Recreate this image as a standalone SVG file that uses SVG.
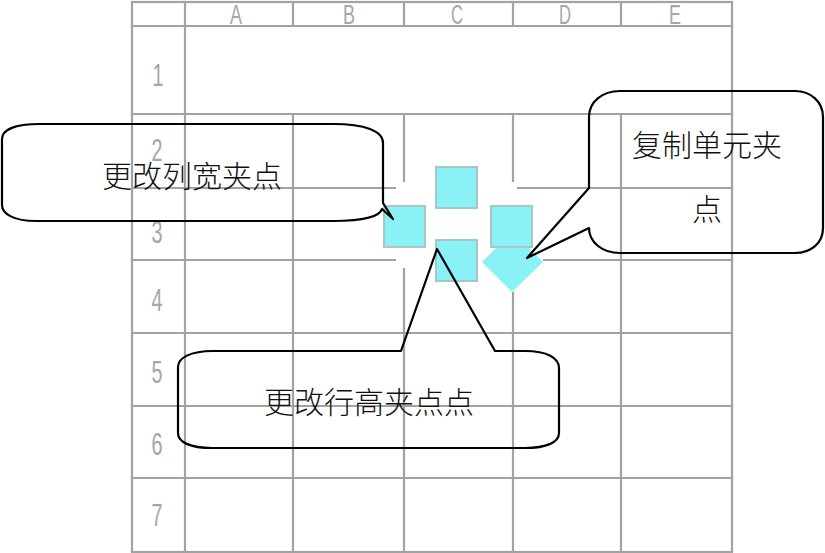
<svg xmlns="http://www.w3.org/2000/svg" width="825" height="553" viewBox="0 0 825 553">
<style>
.g{stroke:#a2a2a2;stroke-width:2.2;fill:none}
.hd{font-family:"Liberation Sans",Arial,sans-serif;font-size:31px;fill:#a6a6a6;text-anchor:middle}
.ch{font-size:27px}
.grip{fill:#8af2f7;stroke:#a8c6c8;stroke-width:2}
.co{fill:none;stroke:#000;stroke-width:2.2;stroke-linejoin:round}
.lbl{font-family:"Noto Sans CJK SC","Liberation Serif",serif;font-size:30px;font-weight:300;fill:#111;text-anchor:middle}
</style>
<rect width="825" height="553" fill="#fff"/>
<g id="grid">
  <rect class="g" x="132" y="2" width="600" height="550"/>
  <path class="g" d="M132 26H732 M132 114H732 M132 188H396 M517 188H732 M132 260H396 M543 260H732 M132 333H732 M132 406H732 M132 478H732"/>
  <path class="g" d="M185 2V552 M293 2V26 M293 114V552 M404 2V26 M404 114V182 M404 268V552 M513 2V26 M513 114V182 M513 292V552 M621 2V26 M621 114V552"/>
  <g id="col-headers">
    <text class="hd ch" x="236" y="24" textLength="12" lengthAdjust="spacingAndGlyphs">A</text>
    <text class="hd ch" x="349" y="24" textLength="12" lengthAdjust="spacingAndGlyphs">B</text>
    <text class="hd ch" x="457" y="24" textLength="12" lengthAdjust="spacingAndGlyphs">C</text>
    <text class="hd ch" x="565" y="24" textLength="12" lengthAdjust="spacingAndGlyphs">D</text>
    <text class="hd ch" x="675" y="24" textLength="12" lengthAdjust="spacingAndGlyphs">E</text>
  </g>
  <g id="row-headers">
    <text class="hd" x="158" y="86" textLength="11" lengthAdjust="spacingAndGlyphs">1</text>
    <text class="hd" x="157" y="161" textLength="11" lengthAdjust="spacingAndGlyphs">2</text>
    <text class="hd" x="157" y="243" textLength="11" lengthAdjust="spacingAndGlyphs">3</text>
    <text class="hd" x="157" y="311" textLength="11" lengthAdjust="spacingAndGlyphs">4</text>
    <text class="hd" x="157" y="383" textLength="11" lengthAdjust="spacingAndGlyphs">5</text>
    <text class="hd" x="157" y="455" textLength="11" lengthAdjust="spacingAndGlyphs">6</text>
    <text class="hd" x="157" y="526" textLength="11" lengthAdjust="spacingAndGlyphs">7</text>
  </g>
</g>
<g id="grips">
  <polygon points="512,232 543,262 512,292 482,262" fill="#8af2f7"/>
  <rect class="grip" x="384" y="206" width="41" height="41"/>
  <rect class="grip" x="436" y="167" width="41" height="41"/>
  <rect class="grip" x="491" y="206" width="41" height="41"/>
  <rect class="grip" x="436" y="240" width="41" height="41"/>
</g>
<g id="callout-col-width">
  <path class="co" d="M40 124 L333 124 C365 124 383 131 383 143 L383 203 L393 219 L382 209 C380 216 365 221 333 221 L36 221 C14 221 2 214 2 205 L2 139 C2 130 14 124 40 124 Z"/>
  <text class="lbl" x="192" y="187">更改列宽夹点</text>
</g>
<g id="callout-copy">
  <path class="co" d="M620 91 L795 91 C811 91 823 102 823 117 L823 228 C823 243 811 253 795 253 L620 253 C602 253 589 242 589 228 L527 258 L589 188 L589 117 C589 102 602 91 620 91 Z"/>
  <text class="lbl" x="707" y="156">复制单元夹</text>
  <text class="lbl" x="707" y="220">点</text>
</g>
<g id="callout-row-height">
  <path class="co" d="M213 351 L401 351 L437 249 L495 351 L525 351 C547 351 559 358 559 368 L559 433 C559 442 547 448 525 448 L212 448 C190 448 178 442 178 433 L178 367 C178 358 190 351 213 351 Z"/>
  <text class="lbl" x="369" y="413">更改行高夹点点</text>
</g>
<g id="connectors"/>
</svg>
